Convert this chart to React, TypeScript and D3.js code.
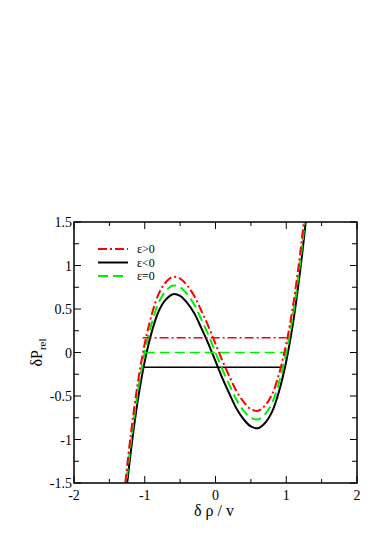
import React from "react";
import * as d3 from "d3";

const xs = [-1.3, -1.2, -1.1, -1.0, -0.9, -0.8, -0.7, -0.6, -0.5, -0.4, -0.3, -0.2, -0.1, 0.0, 0.1, 0.2, 0.3, 0.4, 0.5, 0.6, 0.7, 0.8, 0.9, 1.0, 1.1, 1.2, 1.3];
const greenY = [-1.79, -1.06, -0.46, 0.0, 0.34, 0.58, 0.71, 0.77, 0.75, 0.67, 0.55, 0.38, 0.2, 0.0, -0.2, -0.38, -0.55, -0.67, -0.75, -0.77, -0.71, -0.58, -0.34, 0.0, 0.46, 1.06, 1.79];
const redY = [-1.69, -0.96, -0.36, 0.1, 0.44, 0.68, 0.81, 0.87, 0.85, 0.77, 0.65, 0.48, 0.3, 0.1, -0.1, -0.28, -0.45, -0.57, -0.65, -0.67, -0.61, -0.48, -0.24, 0.1, 0.56, 1.16, 1.89];
const blackY = [-1.89, -1.16, -0.56, -0.1, 0.24, 0.48, 0.61, 0.67, 0.65, 0.57, 0.45, 0.28, 0.1, -0.1, -0.3, -0.48, -0.65, -0.77, -0.85, -0.87, -0.81, -0.68, -0.44, -0.1, 0.36, 0.96, 1.69];
// tie lines [x0, x1, y]
const redTie = [-1.03, 1.0, 0.17];
const greenTie = [-1.0, 1.0, 0.0];
const blackTie = [-1.02, 0.98, -0.17];

const xTicks = [-2, -1, 0, 1, 2];
const yTicks = [-1.5, -1, -0.5, 0, 0.5, 1, 1.5];
const xMinor = [-1.5, -0.5, 0.5, 1.5];
const yMinor = [-1.25, -0.75, -0.25, 0.25, 0.75, 1.25];
const legendLabels = ["ε>0", "ε<0", "ε=0"];

export default function App() {
  const L = 74, R = 357, T = 222, B = 483;
  const x = d3.scaleLinear().domain([-2, 2]).range([L, R]);
  const y = d3.scaleLinear().domain([-1.5, 1.5]).range([B, T]);
  const line = d3.line<[number, number]>().x(d => x(d[0])).y(d => y(d[1])).curve(d3.curveCatmullRom);
  const pts = (ys: number[]) => xs.map((v, i) => [v, ys[i]] as [number, number]);
  const tf: React.CSSProperties = { fontFamily: "'Times New Roman', 'Liberation Serif', serif" };
  const series = [
    { ys: blackY, tie: blackTie, color: "#000000", dash: "none", w: 2 },
    { ys: greenY, tie: greenTie, color: "#00ee00", dash: "10,5", w: 2 },
    { ys: redY, tie: redTie, color: "#ff0000", dash: "9,3,2,3", w: 2 },
  ];
  const legend = [
    { color: "#ff0000", dash: "9,3,2,3" },
    { color: "#000000", dash: "none" },
    { color: "#00ee00", dash: "10,5" },
  ];
  return (
    <svg width={385} height={545} style={{ position: "absolute", left: 0, top: 0 }}>
      <defs>
        <clipPath id="plot">
          <rect x={L} y={T} width={R - L} height={B - T} />
        </clipPath>
      </defs>
      <rect x={0} y={0} width={385} height={545} fill="#fff" />
      <g clipPath="url(#plot)" fill="none">
        {series.map((s, i) => (
          <g key={i}>
            <path d={line(pts(s.ys)) || ""} stroke={s.color} strokeWidth={s.w} strokeDasharray={s.dash} />
            <line x1={x(s.tie[0])} x2={x(s.tie[1])} y1={y(s.tie[2])} y2={y(s.tie[2])} stroke={s.color} strokeWidth={1.6} strokeDasharray={s.dash} />
          </g>
        ))}
      </g>
      <rect x={L} y={T} width={R - L} height={B - T} fill="none" stroke="#000" strokeWidth={1.5} />
      {xTicks.map(t => (
        <g key={"xt" + t}>
          <line x1={x(t)} x2={x(t)} y1={B} y2={B - 7} stroke="#000" strokeWidth={1} />
          <line x1={x(t)} x2={x(t)} y1={T} y2={T + 7} stroke="#000" strokeWidth={1} />
          <text x={x(t)} y={500} textAnchor="middle" style={tf} fontSize={14}>{t}</text>
        </g>
      ))}
      {xMinor.map(t => (
        <g key={"xm" + t}>
          <line x1={x(t)} x2={x(t)} y1={B} y2={B - 4} stroke="#000" strokeWidth={1} />
          <line x1={x(t)} x2={x(t)} y1={T} y2={T + 4} stroke="#000" strokeWidth={1} />
        </g>
      ))}
      {yTicks.map(t => (
        <g key={"yt" + t}>
          <line x1={L} x2={L + 7} y1={y(t)} y2={y(t)} stroke="#000" strokeWidth={1} />
          <line x1={R} x2={R - 7} y1={y(t)} y2={y(t)} stroke="#000" strokeWidth={1} />
          <text x={72} y={y(t) + 5} textAnchor="end" style={tf} fontSize={14}>{t}</text>
        </g>
      ))}
      {yMinor.map(t => (
        <g key={"ym" + t}>
          <line x1={L} x2={L + 5} y1={y(t)} y2={y(t)} stroke="#000" strokeWidth={1} />
          <line x1={R} x2={R - 5} y1={y(t)} y2={y(t)} stroke="#000" strokeWidth={1} />
        </g>
      ))}
      {legend.map((l, i) => (
        <g key={"lg" + i}>
          <line x1={98} x2={128} y1={249 + i * 13.5} y2={249 + i * 13.5} stroke={l.color} strokeWidth={2} strokeDasharray={l.dash} />
          <text x={137} y={253 + i * 13.5} style={tf} fontSize={12}>{legendLabels[i]}</text>
        </g>
      ))}
      <text x={214} y={516} textAnchor="middle" style={tf} fontSize={16}>δ ρ / v</text>
      <text transform={`translate(42, ${y(0)}) rotate(-90)`} textAnchor="middle" style={tf} fontSize={16}>
        δP<tspan fontSize={11} dy={4}>rel</tspan>
      </text>
    </svg>
  );
}
